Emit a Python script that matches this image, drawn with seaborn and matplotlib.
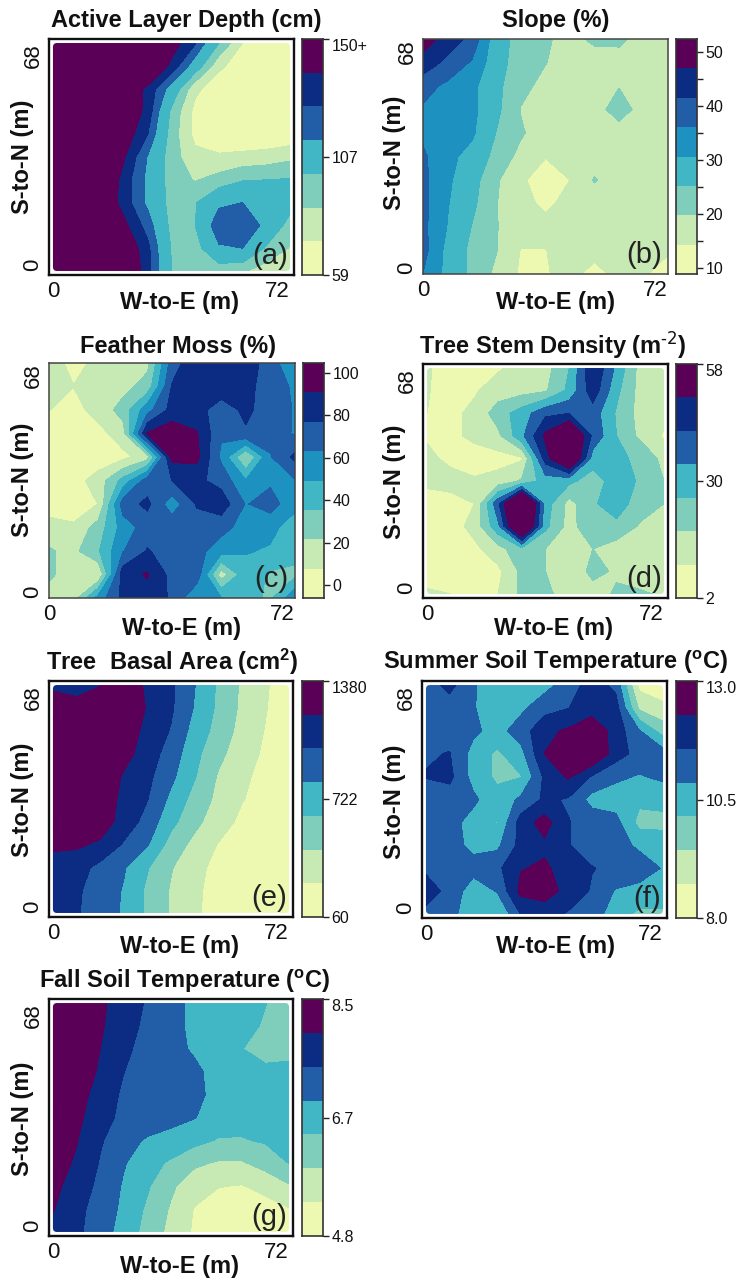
import matplotlib
matplotlib.use('Agg')
import matplotlib.pyplot as plt
from matplotlib.colors import ListedColormap
from matplotlib.patches import FancyBboxPatch
import numpy as np
import seaborn as sns

W, H = 743, 1281

# grid nodes, rows run north to south
x_m = [0, 7.2, 14.4, 21.6, 28.8, 36, 43.2, 50.4, 57.6, 64.8, 72]
y_m = [68, 61.2, 54.4, 47.6, 40.8, 34, 27.2, 20.4, 13.6, 6.8, 0]

depth_levels = [59, 72, 85, 98, 116, 127, 138, 150]
depth = [
    [170, 170, 170, 170, 160, 144, 128, 98, 72, 65, 64],
    [170, 170, 170, 170, 155, 135, 108, 75, 64, 62, 62],
    [170, 170, 170, 150, 135, 110, 75, 64, 62, 62, 62],
    [170, 170, 165, 150, 134, 95, 68, 62, 60, 60, 60],
    [170, 170, 165, 146, 127, 92, 68, 62, 60, 60, 62],
    [170, 170, 160, 139, 115, 91, 76, 74, 76, 78, 82],
    [170, 170, 155, 133, 113, 92, 84, 90, 97, 98, 99],
    [170, 165, 150, 133, 113, 93, 97, 113, 116, 110, 104],
    [170, 170, 160, 141, 122, 94, 98, 125, 126, 112, 92],
    [170, 170, 170, 150, 130, 97, 92, 114, 116, 96, 84],
    [170, 170, 170, 155, 131, 98, 85, 90, 87, 78, 74],
]

slope_levels = [8.9, 14.3, 19.8, 25.2, 30.7, 36.1, 41.5, 47, 52.4]
slope = [
    [50, 44.5, 40, 27, 23.7, 20.5, 18, 21, 21, 17.5, 17],
    [45, 40, 35.5, 27, 23, 20, 17, 17, 17.5, 17, 17],
    [38, 35, 32, 26.5, 21.5, 18, 16.5, 16.5, 19.5, 16.5, 16.5],
    [35.5, 34.5, 32, 26.5, 19.5, 17.5, 16.5, 17, 23, 17, 16],
    [35, 33, 31.5, 25, 20.5, 16.5, 15.5, 16, 16.5, 16, 16],
    [37, 32, 29, 23.5, 18, 14.5, 15, 16.5, 16.5, 16.5, 16.5],
    [37.5, 31.5, 27.5, 20.5, 15, 12, 14.3, 20.3, 16, 16, 16],
    [37.5, 31, 26.5, 20, 15.5, 13.5, 15.5, 16, 16, 16, 16],
    [37.5, 30.5, 25, 20, 17, 15.5, 16, 16, 16, 16, 15],
    [38, 29, 24, 20, 14, 14.2, 16, 15.5, 16, 16, 14.5],
    [36, 29, 24, 18.5, 13.5, 14, 15.5, 13, 15.5, 14.5, 13.5],
]

moss_levels = [-6, 7.8, 21.6, 35.4, 49.2, 63, 76.9, 90.7, 104.7]
moss = [
    [12, 5, 10, 14, 18, 70, 88, 80, 85, 70, 50],
    [12, 8, 13, 17, 27, 78, 85, 85, 80, 72, 60],
    [8, 3, 13, 27, 58, 82, 82, 70, 80, 70, 62],
    [0, -2, 3, 15, 92, 100, 92, 65, 75, 68, 62],
    [-2, -2, -1, 4, 15, 95, 95, 60, 20, 62, 80],
    [2, 2, 14, 40, 70, 77, 80, 72, 50, 60, 62],
    [0, 0, 8, 70, 80, 55, 78, 85, 62, 70, 52],
    [14, 10, 28, 55, 70, 72, 72, 68, 57, 52, 44],
    [23, 18, 34, 62, 78, 70, 68, 55, 50, 48, 40],
    [25, 12, 8, 85, 92, 72, 72, 14, 45, 33, 32],
    [14, 15, 55, 80, 85, 75, 50, 50, 40, 33, 60],
]

stems_levels = [2, 10, 18, 26, 34, 42, 50, 58]
stems = [
    [10.5, 8, 8, 9, 13, 15, 26, 50, 32, 15, 14],
    [10.5, 7, 9, 14, 15, 17, 28, 47, 28, 15, 13],
    [10, 8, 12, 22, 30, 40, 42, 38, 25, 15, 13],
    [9, 8, 12, 16, 32, 52, 66, 40, 26, 16, 9],
    [12, 8, 6, 7, 9, 46, 68, 30, 27, 25, 15],
    [11, 13, 11, 13, 19, 30, 28, 22, 30, 25, 18],
    [8, 7, 10, 40, 80, 30, 15, 25, 30, 22, 18],
    [7, 6, 13, 32, 72, 28, 15, 24, 24, 17, 17],
    [7, 6, 8, 15, 24, 18, 15, 18, 14, 12, 11],
    [7, 6, 7, 8, 20, 18, 13, 20, 17, 14, 12],
    [11, 10, 8, 10, 20, 20, 14, 15, 19, 19, 17],
]

basal_levels = [60, 249, 437, 626, 814, 1003, 1191, 1380]
basal = [
    [1150, 1150, 1180, 1350, 1150, 1040, 820, 600, 410, 270, 140],
    [1300, 1230, 1350, 1400, 1170, 1030, 800, 590, 400, 260, 130],
    [1450, 1450, 1450, 1300, 1140, 990, 740, 560, 370, 240, 120],
    [1450, 1450, 1400, 1260, 1100, 920, 680, 490, 330, 220, 120],
    [1450, 1450, 1340, 1170, 1050, 860, 640, 420, 290, 190, 110],
    [1450, 1450, 1320, 1140, 1010, 770, 560, 390, 260, 170, 100],
    [1450, 1400, 1290, 1120, 930, 680, 490, 330, 210, 140, 90],
    [1210, 1220, 1160, 980, 830, 550, 380, 240, 150, 110, 80],
    [1150, 1080, 950, 830, 640, 450, 310, 190, 120, 90, 70],
    [1130, 1030, 920, 800, 590, 420, 290, 170, 110, 80, 70],
    [1120, 1020, 910, 790, 590, 420, 280, 170, 110, 80, 65],
]

summer_levels = [8, 8.71, 9.43, 10.14, 10.86, 11.57, 12.29, 13]
summer = [
    [11.2, 11.8, 10.9, 10.6, 10.5, 10.6, 11.2, 11.9, 11.4, 8.5, 8.2],
    [11.2, 11.2, 10.9, 10.5, 10.7, 11.3, 11.55, 12, 11.9, 9.3, 8.9],
    [11.2, 11.3, 11, 10.6, 11.2, 12.1, 12.4, 12.8, 12, 10.9, 9.8],
    [11.5, 11.6, 10.6, 10, 10.6, 12.3, 13.2, 13.2, 11.9, 11.3, 11.2],
    [11.6, 11.75, 10.6, 10, 10.1, 11.7, 12.4, 11.5, 11, 10.8, 11],
    [11.2, 11.2, 11, 10.4, 11, 11.7, 11.5, 10.6, 10.5, 10.3, 10.4],
    [11.1, 11.1, 10.6, 10.1, 11.9, 12.6, 11.6, 11.3, 11.1, 9.9, 9.9],
    [11.1, 11.1, 10.7, 10.7, 11.8, 12.15, 11.6, 11.3, 11.2, 10.7, 10.6],
    [11.4, 11.1, 11.1, 11.4, 12.25, 12.4, 12, 11.6, 11.4, 11.3, 10.8],
    [12, 11.3, 10.5, 10.9, 12.5, 12.7, 12, 11.5, 10.8, 10.6, 10.6],
    [11.3, 11.1, 10.4, 10.1, 11.6, 11.8, 11.5, 11.3, 10.4, 10, 10],
]

fall_levels = [4.8, 5.33, 5.86, 6.39, 6.91, 7.44, 7.97, 8.5]
fall = [
    [8.9, 8.5, 8.1, 7.65, 7.4, 7.05, 6.8, 6.65, 6.55, 6.4, 6.2],
    [8.9, 8.5, 8.05, 7.6, 7.35, 7.05, 6.8, 6.65, 6.5, 6.35, 6.15],
    [8.8, 8.4, 7.97, 7.55, 7.25, 7.05, 6.85, 6.6, 6.4, 6.2, 6.15],
    [8.7, 8.3, 7.9, 7.45, 7.2, 7.1, 7, 6.75, 6.4, 6.5, 6.6],
    [8.6, 8.2, 7.75, 7.35, 7.2, 7.1, 7, 6.8, 6.7, 6.65, 6.6],
    [8.5, 8.1, 7.65, 7.3, 7.2, 7.05, 6.93, 6.65, 6.6, 6.55, 6.55],
    [8.35, 8, 7.5, 7.1, 6.85, 6.75, 6.55, 6.35, 6.35, 6.45, 6.5],
    [8.2, 7.9, 7.4, 6.95, 6.6, 6.3, 5.95, 5.8, 5.8, 6.05, 6.4],
    [8.1, 7.75, 7.3, 6.85, 6.45, 5.95, 5.55, 5.35, 5.3, 5.5, 5.8],
    [8, 7.6, 7.2, 6.8, 6.3, 5.8, 5.3, 5.1, 5.05, 5.1, 5.3],
    [7.8, 7.55, 7.15, 6.7, 6.2, 5.7, 5.25, 5.05, 5, 5, 5.1],
]

colors7 = ['#EDF8B1', '#C7E9B4', '#7FCDBB', '#41B6C4', '#225EA8', '#0C2C84', '#5B0057']
colors8 = ['#EDF8B1', '#C7E9B4', '#7FCDBB', '#41B6C4', '#1D91C0', '#225EA8', '#0C2C84', '#5B0057']

sns.set_style('white')
plt.rcParams['font.family'] = ['Liberation Sans', 'DejaVu Sans']
plt.rcParams['mathtext.default'] = 'regular'
plt.rcParams.update({'text.color': '#111111', 'xtick.labelcolor': '#111111', 'ytick.labelcolor': '#111111'})

fig = plt.figure(figsize=(W / 100, H / 100), dpi=100)


def px_axes(x0, y0, x1, y1):
    return fig.add_axes([x0 / W, 1 - y1 / H, (x1 - x0) / W, (y1 - y0) / H])


def put(x, y, s, **kw):
    fig.text(x / W, 1 - y / H, s, ha='center', va='center', fontweight='bold', fontsize=17, **kw)


def panel(box, cbar_x, z, levels, colors, ticks, tick_text, minor, letter, title, xlab, ylab, inset):
    x0, y0, x1, y1 = box
    ax = px_axes(x0, y0, x1, y1)
    cmap = ListedColormap(colors).with_extremes(under=colors[0], over=colors[-1])
    cf = ax.contourf(x_m, y_m, z, levels=levels, cmap=cmap, extend='both')
    if inset:
        # the filled part stops short of the frame, corners rounded
        ax.set_xlim(-1.2, 73.2)
        ax.set_ylim(-1.2, 69.2)
        clip = FancyBboxPatch((0, 0), 72, 68, boxstyle='round,pad=0,rounding_size=1.2',
                              transform=ax.transData, fc='none', ec='none')
        ax.add_patch(clip)
        cf.set_clip_path(clip)
    else:
        ax.set_xlim(0, 72)
        ax.set_ylim(0, 68)
    ax.set_xticks([0, 72], ['0', '72'], fontsize=16)
    ax.set_yticks([0, 68], ['0', '68'], fontsize=16, rotation=90, va='center')
    ax.tick_params(length=0, pad=4)
    ax.get_xticklabels()[1].set_ha('right')
    ax.get_yticklabels()[0].set_va('bottom')
    ax.get_yticklabels()[1].set_va('top')
    for s in ax.spines.values():
        s.set_visible(True)
        s.set_color('#111111' if inset else '#444444')
        s.set_linewidth(1.7 if inset else 1.1)
    ax.text(0.975, 0.02, letter, transform=ax.transAxes, ha='right', va='bottom', fontsize=21,
            color='#222222')

    cax = px_axes(cbar_x, y0, cbar_x + 21, y1)
    n = len(colors)
    strip = np.arange(n)[::-1].reshape(-1, 1)
    sns.heatmap(strip, cmap=cmap, cbar=False, ax=cax, xticklabels=False, yticklabels=False,
                vmin=-0.5, vmax=n - 0.5)
    pos = n - np.interp(ticks, levels, np.arange(n + 1))
    cax.yaxis.tick_right()
    cax.set_yticks(pos, tick_text, fontsize=11.5, rotation=0)
    if minor:
        cax.set_yticks(n - np.interp(minor, levels, np.arange(n + 1)), minor=True)
    cax.tick_params(axis='y', which='both', right=True, length=4, width=1, pad=2, color='#222222')
    for s in cax.spines.values():
        s.set_visible(True)
        s.set_color('#333333')
        s.set_linewidth(1.2)
    if not minor and len(ticks) == 3:
        cax.get_yticklabels()[-1].set_va('top')

    put(title[0], title[1], title[2])
    put(xlab[0], xlab[1], 'W-to-E (m)')
    put(ylab[0], ylab[1], 'S-to-N (m)', rotation=90)


panel((49, 39, 294, 275), 302, depth, depth_levels, colors7, [59, 107, 150], ['59', '107', '150+'], None,
      '(a)', (186, 20, 'Active Layer Depth (cm)'), (180, 303), (22, 157), True)
panel((423, 39, 668, 274), 676, slope, slope_levels, colors8, [10, 20, 30, 40, 50],
      ['10', '20', '30', '40', '50'], [15, 25, 35, 45],
      '(b)', (556, 20, 'Slope (%)'), (555, 303), (395, 153), False)
panel((49, 363, 295, 598), 303, moss, moss_levels, colors8, [0, 20, 40, 60, 80, 100],
      ['0', '20', '40', '60', '80', '100'], None,
      '(c)', (178, 346, 'Feather Moss (%)'), (182, 628), (22, 480), False)
panel((423, 364, 668, 598), 676, stems, stems_levels, colors7, [2, 30, 58], ['2', '30', '58'], None,
      '(d)', (553, 345, r'Tree Stem Density (m$^{\text{-2}}$)'), (554, 628), (395, 482), True)
panel((49, 681, 293, 917), 302, basal, basal_levels, colors7, [60, 722, 1380], ['60', '722', '1380'], None,
      '(e)', (172, 662, 'Tree  Basal Area (cm$^{2}$)'), (180, 947), (22, 800), True)
panel((422, 681, 667, 918), 676, summer, summer_levels, colors7, [8, 10.5, 13], ['8.0', '10.5', '13.0'], None,
      '(f)', (556, 662, 'Summer Soil Temperature ($^{o}$C)'), (555, 947), (395, 802), True)
panel((49, 999, 293, 1236), 302, fall, fall_levels, colors7, [4.8, 6.65, 8.5], ['4.8', '6.7', '8.5'], None,
      '(g)', (185, 981, 'Fall Soil Temperature ($^{o}$C)'), (180, 1266), (22, 1119), True)

fig.savefig('out.png', dpi=100, facecolor='white')
